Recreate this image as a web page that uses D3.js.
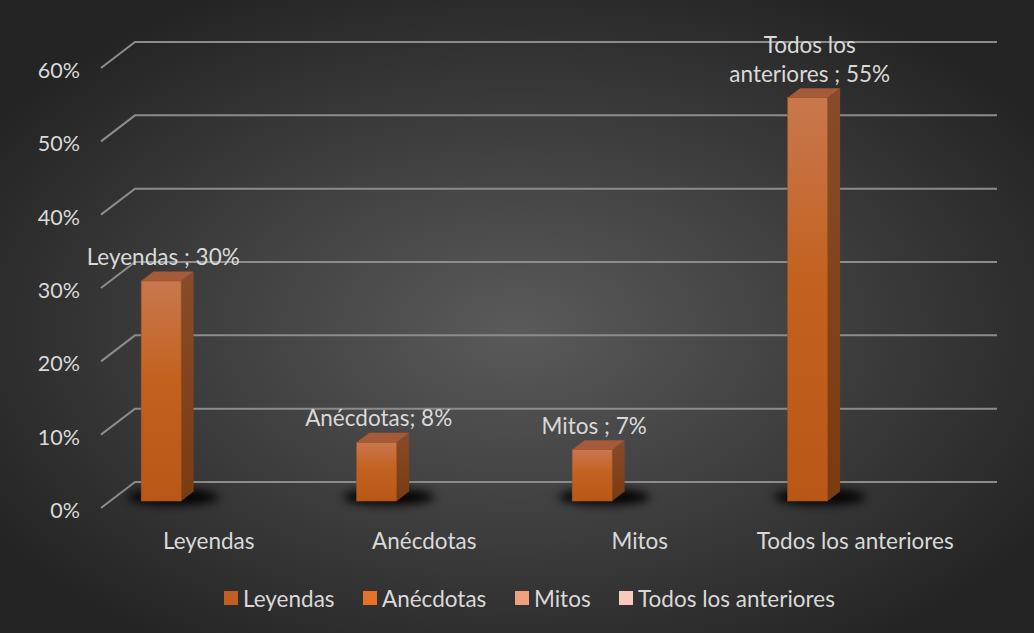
<!doctype html>
<html>
  <head>
    <meta charset="utf-8">
    <title>Leyendas, anécdotas y mitos</title>
    <style>
      html, body { margin: 0; padding: 0; background: #262626; }
      svg text { font-family: Lato, "Noto Sans", sans-serif; fill: #d9d9d9; }
    </style>
    <script src="https://cdnjs.cloudflare.com/ajax/libs/d3/7.8.5/d3.min.js"></script>
  </head>
  <body>
    <div id="chart"></div>
    <script>
      // chart data
      const categories = ["Leyendas", "Anécdotas", "Mitos", "Todos los anteriores"];
      const values = [0.30, 0.08, 0.07, 0.55];
      const labelLines = [
        ["Leyendas ; 30%"],
        ["Anécdotas; 8%"],
        ["Mitos ; 7%"],
        ["Todos los", "anteriores ; 55%"]
      ];
      const ticks = [0, 0.1, 0.2, 0.3, 0.4, 0.5, 0.6];
      const legendNames = ["Leyendas", "Anécdotas", "Mitos", "Todos los anteriores"];
      const legendColors = ["#c25e1f", "#e6722a", "#f0a07c", "#f8cabd"];

      const width = 1034, height = 633;
      const depthX = 34, depthY = -26;          // floor depth (front -> back wall)
      const barT0 = 7 / 26, barT1 = 16.5 / 26;  // bar front / back depth
      const fs = 22.5;

      const svg = d3.select("#chart").append("svg")
        .attr("width", width)
        .attr("height", height);

      const defs = svg.append("defs");
      const bg = defs.append("radialGradient").attr("id", "bg")
        .attr("cx", "50%").attr("cy", "52%").attr("r", "60%");
      bg.append("stop").attr("offset", "0%").attr("stop-color", "#5a5a5a");
      bg.append("stop").attr("offset", "100%").attr("stop-color", "#242424");

      const front = defs.append("linearGradient").attr("id", "front")
        .attr("x1", 0).attr("y1", 0).attr("x2", 0).attr("y2", 1);
      front.append("stop").attr("offset", "0%").attr("stop-color", "#c9774e");
      front.append("stop").attr("offset", "45%").attr("stop-color", "#c3621f");
      front.append("stop").attr("offset", "100%").attr("stop-color", "#b95717");

      const side = defs.append("linearGradient").attr("id", "side")
        .attr("x1", 0).attr("y1", 0).attr("x2", 0).attr("y2", 1);
      side.append("stop").attr("offset", "0%").attr("stop-color", "#884b2b");
      side.append("stop").attr("offset", "100%").attr("stop-color", "#7a3b10");

      defs.append("filter").attr("id", "blur")
        .attr("x", "-50%").attr("y", "-100%").attr("width", "200%").attr("height", "300%")
        .append("feGaussianBlur").attr("stdDeviation", 5);

      svg.append("rect")
        .attr("width", width).attr("height", height)
        .attr("fill", "url(#bg)");

      const x = d3.scaleBand().domain(categories).range([101, 963]);
      const y = d3.scaleLinear().domain([0, 0.6]).range([508, 68]);

      // gridlines: short floor diagonal + back wall line
      svg.append("g").selectAll("path")
        .data(ticks)
        .join("path")
        .attr("d", d => `M101,${y(d)}L${101 + depthX},${y(d) + depthY}L997,${y(d) + depthY}`)
        .attr("fill", "none")
        .attr("stroke", "#8c8c8c")
        .attr("stroke-width", 2);

      svg.append("g").selectAll("text")
        .data(ticks)
        .join("text")
        .attr("x", 80)
        .attr("y", d => y(d) + 2)
        .attr("text-anchor", "end")
        .attr("dominant-baseline", "central")
        .attr("font-size", 21.5)
        .text(d3.format(".0%"));

      const bars = categories.map((c, i) => {
        const ox = barT0 * depthX, oy = barT0 * depthY;
        const x0 = x(c) + x.bandwidth() * 0.144 + ox;
        const yb = y(0) + oy, yt = y(values[i]) + oy;
        return { c, v: values[i], i, x0, w: 40, yb, yt };
      });
      const dx = (barT1 - barT0) * depthX, dy = (barT1 - barT0) * depthY;

      const bar = svg.append("g").selectAll("g")
        .data(bars)
        .join("g");

      bar.append("ellipse")
        .attr("cx", d => d.x0 + d.w / 2 + 12)
        .attr("cy", d => d.yb - 4)
        .attr("rx", 46)
        .attr("ry", 8)
        .attr("fill", "#000")
        .attr("opacity", 0.95)
        .attr("filter", "url(#blur)");

      bar.append("path")
        .attr("d", d => `M${d.x0 + d.w},${d.yt}L${d.x0 + d.w + dx},${d.yt + dy}L${d.x0 + d.w + dx},${d.yb + dy}L${d.x0 + d.w},${d.yb}Z`)
        .attr("fill", "url(#side)");

      bar.append("path")
        .attr("d", d => `M${d.x0},${d.yt}L${d.x0 + dx},${d.yt + dy}L${d.x0 + d.w + dx},${d.yt + dy}L${d.x0 + d.w},${d.yt}Z`)
        .attr("fill", "#a55b39");

      bar.append("rect")
        .attr("x", d => d.x0)
        .attr("y", d => d.yt)
        .attr("width", d => d.w)
        .attr("height", d => d.yb - d.yt)
        .attr("fill", "url(#front)")
        .attr("stroke", "#a8511a")
        .attr("stroke-width", 0.6);

      // data labels
      bar.append("text")
        .attr("text-anchor", "middle")
        .attr("font-size", fs)
        .attr("dominant-baseline", "central")
        .selectAll("tspan")
        .data(d => labelLines[d.i].map((t, k, arr) => ({ t, k, n: arr.length, d })))
        .join("tspan")
        .attr("x", e => e.d.x0 + e.d.w / 2 + 2)
        .attr("y", e => e.d.yt - 25 - (e.n - 1 - e.k) * 29)
        .text(e => e.t);

      // category axis labels
      svg.append("g").selectAll("text")
        .data(categories)
        .join("text")
        .attr("x", d => x(d) + x.bandwidth() / 2)
        .attr("y", 540)
        .attr("text-anchor", "middle")
        .attr("dominant-baseline", "central")
        .attr("font-size", fs)
        .text(d => d);

      // legend
      const legendX = [224, 363, 515, 619];
      const leg = svg.append("g").selectAll("g")
        .data(legendNames)
        .join("g")
        .attr("transform", (d, i) => `translate(${legendX[i]},598)`);
      leg.append("rect")
        .attr("x", 0).attr("y", -7)
        .attr("width", 14).attr("height", 14)
        .attr("fill", (d, i) => legendColors[i]);
      leg.append("text")
        .attr("x", 19)
        .attr("dominant-baseline", "central")
        .attr("font-size", fs)
        .text(d => d);
    </script>
  </body>
</html>
